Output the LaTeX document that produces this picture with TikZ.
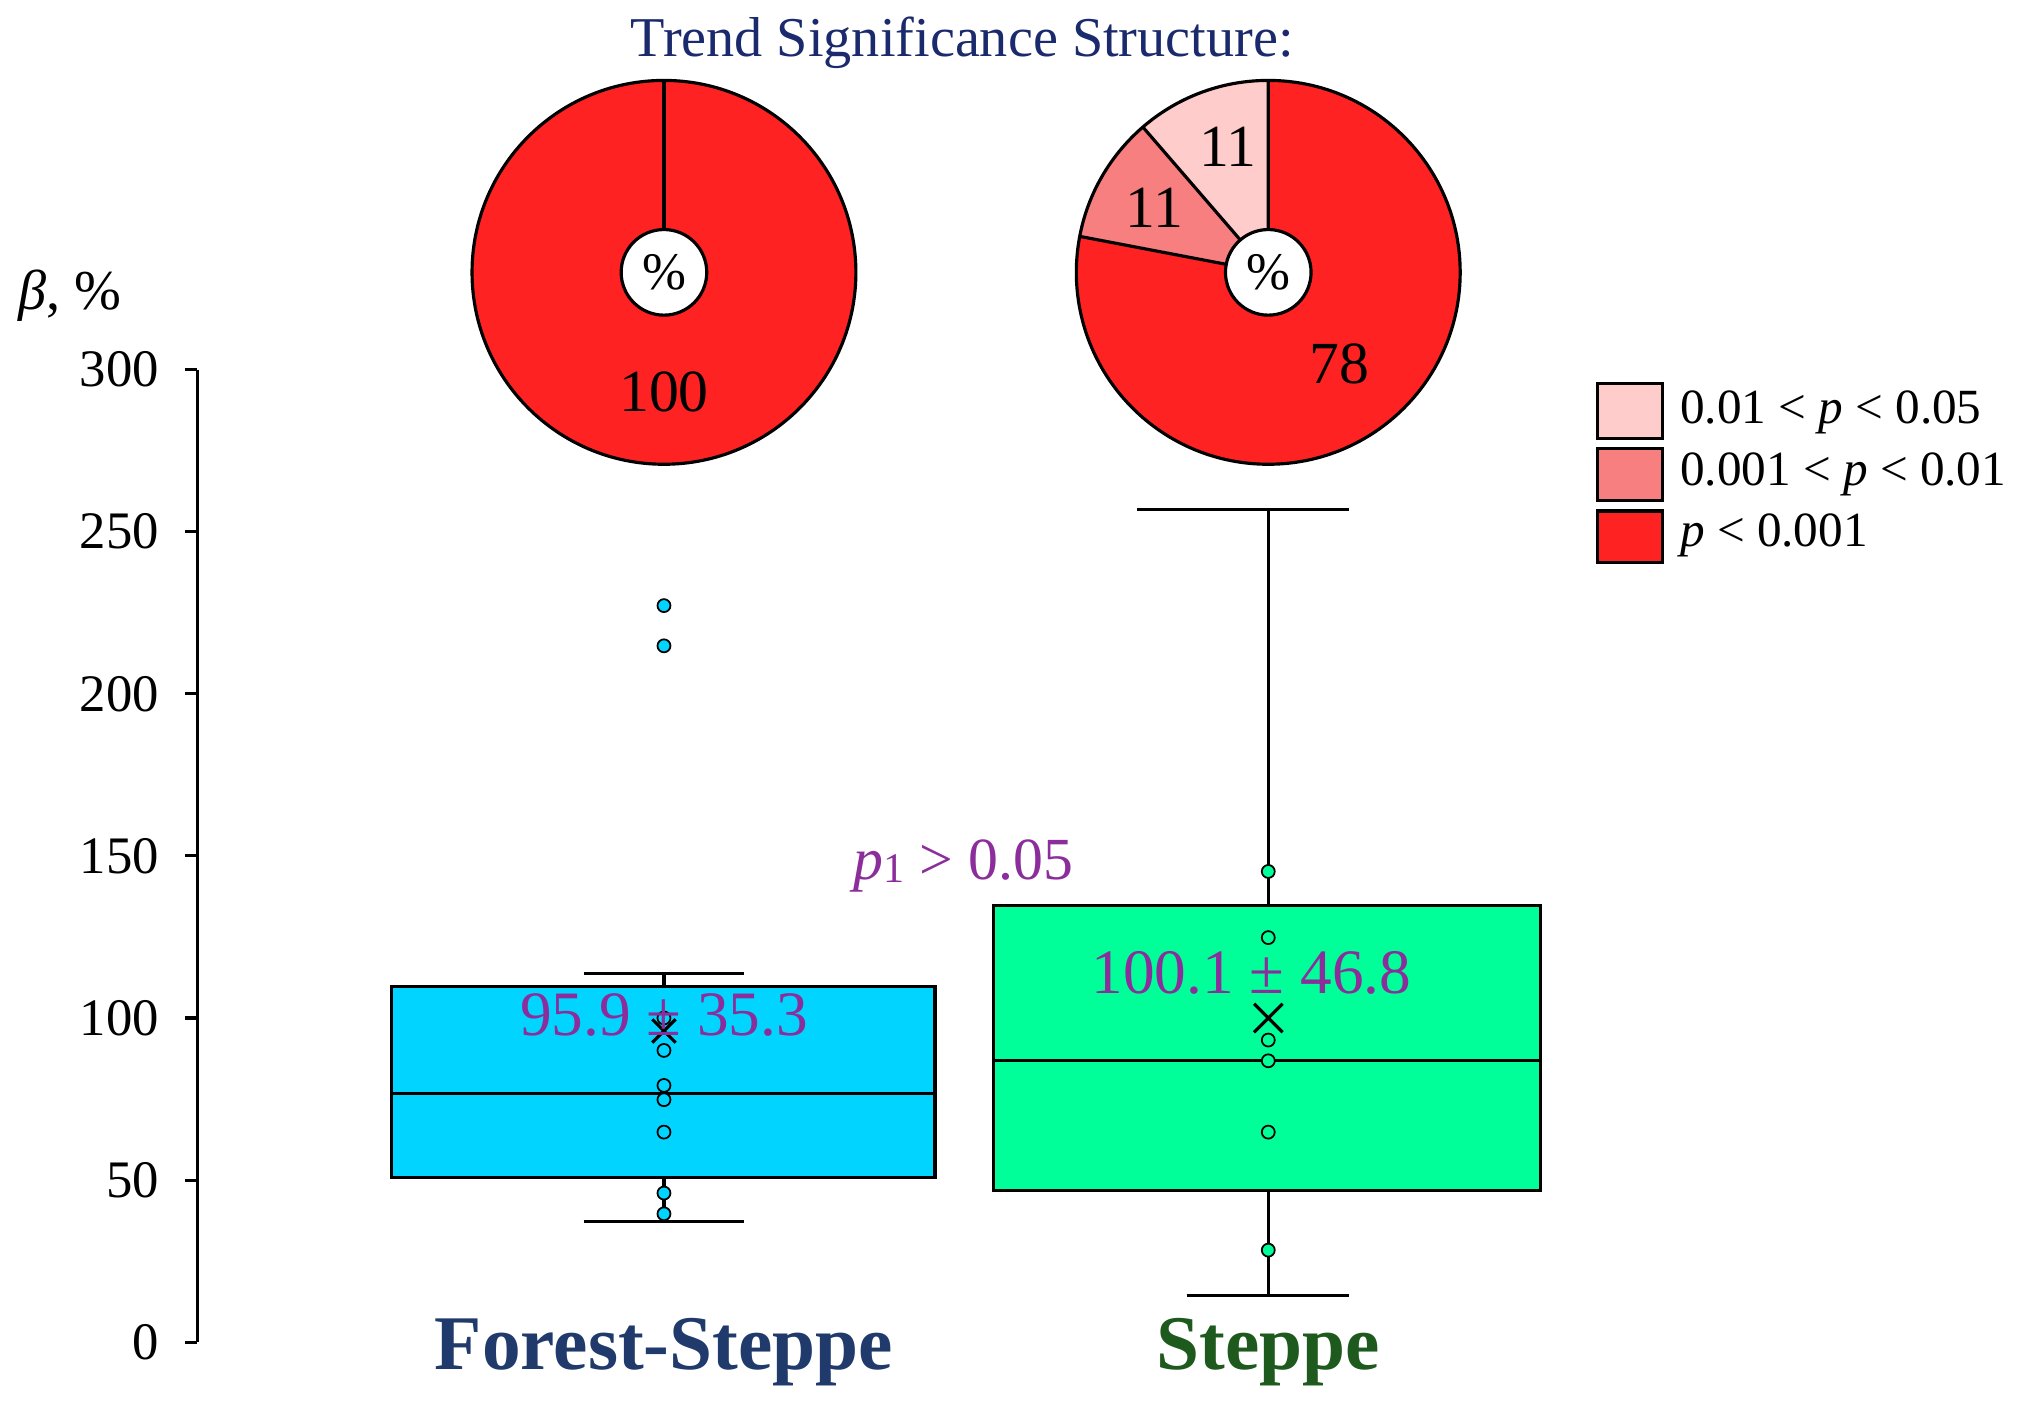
\documentclass[tikz,border=0pt]{standalone}
\usepackage{fontspec}
\setmainfont{Liberation Serif}
\begin{document}
\begin{tikzpicture}[x=0.012968cm,y=-0.012968cm,
  lab/.style={font=\fontsize{15}{17}\selectfont},
  leg/.style={font=\fontsize{14}{16}\selectfont},
  pt/.style={draw=black,line width=0.5pt,fill=#1},
  ln/.style={line width=0.9pt}]
\definecolor{cyanb}{HTML}{00D4FF}
\definecolor{greenb}{HTML}{00FF99}
\definecolor{redA}{HTML}{FF2222}
\definecolor{redB}{HTML}{F77F7F}
\definecolor{redC}{HTML}{FFCCCC}
\definecolor{purp}{HTML}{8B2E9B}
\definecolor{navy}{HTML}{1F3A6B}
\definecolor{dgreen}{HTML}{1E5A1E}
\definecolor{titlec}{HTML}{1A2A6C}
\useasboundingbox (0,0) rectangle (1560,1086);
% title
\node[font=\fontsize{16}{18}\selectfont,text=titlec] (title) at (742,33) {Trend Significance Structure:};
% axis
\node[font=\fontsize{16}{18}\selectfont,anchor=west] (ylab) at (5,228) {\textit{β}, \%};
\draw[ln] (152,285) -- (152,1035);
\foreach \v in {0,50,...,300}{
  \draw[ln] (143,{1035-2.5*\v}) -- (152,{1035-2.5*\v});
  \node[lab,anchor=east] at (132,{1035-2.5*\v}) {\v};
}
% forest-steppe box
\draw[ln] (450,751) -- (574,751);
\draw[ln] (512,751) -- (512,761);
\draw[ln] (512,908) -- (512,942);
\draw[ln] (450,942) -- (574,942);
\draw[ln,fill=cyanb] (302,761) rectangle (721,908);
\draw[ln] (302,843) -- (721,843);
\foreach \y in {467,498,785,810,837,848,873,920,936}
  \draw[pt=cyanb] (512,\y) circle (5);
\draw[ln] (503,786) -- (521,804) (503,804) -- (521,786);
\node[font=\fontsize{18}{20}\selectfont,text=purp] (m1) at (512,783) {95.9 ± 35.3};
% steppe box
\draw[ln] (877,393) -- (1040,393);
\draw[ln] (978,393) -- (978,698);
\draw[ln] (978,918) -- (978,999);
\draw[ln] (915,999) -- (1040,999);
\draw[ln,fill=greenb] (766,698) rectangle (1188,918);
\draw[ln] (766,818) -- (1188,818);
\foreach \y in {672,723,802,818,873,964}
  \draw[pt=greenb] (978,\y) circle (5);
\draw[ln] (967,774) -- (989,796) (967,796) -- (989,774);
\node[font=\fontsize{18}{20}\selectfont,text=purp] (m2) at (965,750) {100.1 ± 46.8};
\node[font=\fontsize{17}{19}\selectfont,text=purp] (p1) at (743,668) {\textit{p}\raisebox{-0.1ex}{\fontsize{12}{12}\selectfont 1} > 0.05};
% categories
\node[font=\fontsize{22}{24}\selectfont\bfseries,text=navy] (c1) at (512,1043) {Forest-Steppe};
\node[font=\fontsize{22}{24}\selectfont\bfseries,text=dgreen] (c2) at (978,1043) {Steppe};
% pie left
\draw[ln,fill=redA] (512,210) circle (148);
\draw[ln] (512,210) -- (512,62);
\draw[ln,fill=white] (512,210) circle (33);
\node[lab] at (512,210) {\%};
\node[font=\fontsize{17}{19}\selectfont] at (512,302) {100};
% pie right
\begin{scope}[shift={(978,210)}]
\fill[redA] (0,0) -- (-90:148) arc[start angle=-90,end angle=-90+280.8,radius=148] -- cycle;
\fill[redB] (0,0) -- (-169.2:148) arc[start angle=-169.2,end angle=-130.8,radius=148] -- cycle;
\fill[redC] (0,0) -- (-130.8:148) arc[start angle=-130.8,end angle=-90,radius=148] -- cycle;
\draw[ln] (0,0) circle (148);
\draw[ln] (0,0) -- (-90:148) (0,0) -- (-169.2:148) (0,0) -- (-130.8:148);
\draw[ln,fill=white] (0,0) circle (33);
\node[lab] at (0,0) {\%};
\end{scope}
\node[font=\fontsize{17}{19}\selectfont] at (1033,281) {78};
\node[font=\fontsize{17}{19}\selectfont] at (890,160) {11};
\node[font=\fontsize{17}{19}\selectfont] at (947,113) {11};
% legend
\draw[ln,fill=redC] (1232,296) rectangle (1282,338);
\draw[ln,fill=redB] (1232,346) rectangle (1282,386);
\draw[ln,fill=redA] (1232,394) rectangle (1282,434);
\node[leg,anchor=west] (l1) at (1286,318) {0.01 < \textit{p} < 0.05};
\node[leg,anchor=west] (l2) at (1286,366) {0.001 < \textit{p} < 0.01};
\node[leg,anchor=west] (l3) at (1286,413) {\textit{p} < 0.001};
\end{tikzpicture}
\end{document}
